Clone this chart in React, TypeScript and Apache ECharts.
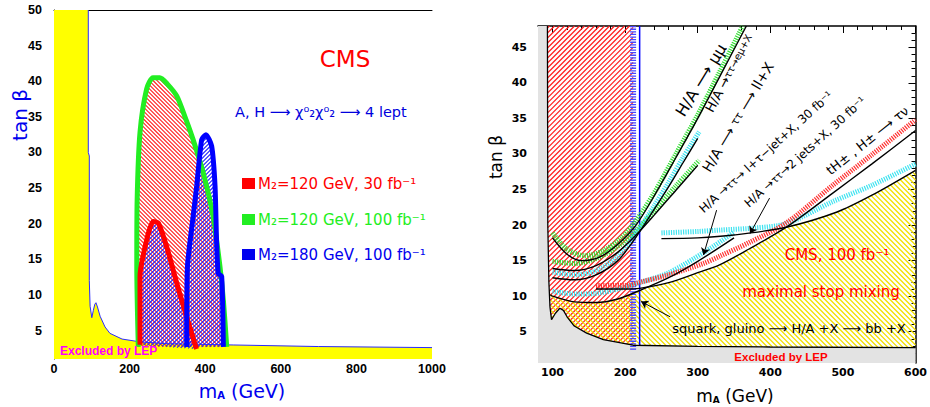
import React, { useEffect, useRef } from 'react';
import * as echarts from 'echarts';

// ================= LEFT PANEL DATA (A,H -> chi2 chi2 -> 4 leptons) =================
const LEFT_X_TICKS = [0, 200, 400, 600, 800, 1000];
const LEFT_Y_TICKS = [5, 10, 15, 20, 25, 30, 35, 40, 45, 50];
// LEP exclusion boundary (m_A, tan beta)
const leftLEP = [
  [90.7, 50], [90.7, 30], [93.4, 29.5], [93.4, 12], [95.5, 8.4], [100, 6.8], [104, 7.8], [108, 8.7],
  [111, 8.9], [115, 8.3], [122, 7.0], [135, 5.5], [148, 4.6], [180, 3.8], [228, 3.4], [300, 3.15],
  [474, 2.97], [700, 2.75], [1000, 2.6],
];
// M2 = 120 GeV, 100 fb-1 (green)
const green100 = [
  [223, 2.7], [219, 14], [220, 23.4], [227.5, 32.8], [245, 38.9], [262, 40.5], [280, 40.5], [300, 39.6],
  [325, 37.9], [350, 34.5], [368, 31.8], [395, 27.1], [421, 21], [439, 14], [448, 9.3], [457, 2.7],
];
// M2 = 120 GeV, 30 fb-1 (red)
const red30 = [
  [227.5, 3.0], [227.5, 12.6], [245, 17.7], [262, 20.3], [276, 20.1], [298, 16.8], [325, 11.6], [351, 6.9], [377, 2.4],
];
// M2 = 180 GeV, 100 fb-1 (blue)
const blue180 = [
  [351, 2.7], [353, 14], [368, 21], [377.5, 25.3], [390.7, 31.8], [402, 32.5], [417, 30.9], [426, 25.3],
  [430, 17.7], [434.6, 13], [443.6, 12.6], [448, 2.7],
];

// ================= RIGHT PANEL DATA (CMS 100 fb-1, maximal stop mixing) =================
const RIGHT_X_TICKS = [100, 200, 300, 400, 500, 600];
const RIGHT_Y_TICKS = [5, 10, 15, 20, 25, 30, 35, 40, 45];
const RIGHT_X_MINOR = [80, 100, 120, 140, 160, 180, 200, 220, 240, 260, 280, 300, 320, 340, 360, 380, 400, 420, 440, 460, 480, 500, 520, 540, 560, 580, 600];
const RIGHT_Y_MINOR = [1, 2, 3, 4, 5, 6, 7, 8, 9, 10, 11, 12, 13, 14, 15, 16, 17, 18, 19, 20, 21, 22, 23, 24, 25, 26, 27, 28, 29, 30, 31, 32, 33, 34, 35, 36, 37, 38, 39, 40, 41, 42, 43, 44, 45, 46, 47];
const rightLEP = [
  [93, 48], [93.5, 20], [95, 12], [96.5, 8.5], [98.6, 6.7], [104, 7.6], [110, 8.3], [115, 8.0], [120, 7.1],
  [130, 5.8], [147, 4.8], [170, 3.9], [211, 3.1], [300, 2.95], [400, 2.85], [600, 2.75],
];
const muGreen = [[100, 18.9], [120, 16.6], [145, 15.7], [170, 16.4], [195, 18.2], [215, 20.6], [240, 24.5], [270, 30], [300, 35.5], [330, 41.5], [362, 48]];
const muBlack = [[100, 18.2], [120, 15.9], [140, 15.0], [165, 15.5], [190, 17.3], [215, 20.0], [240, 24.1], [270, 29.5], [300, 35], [335, 41.8], [367, 48]];
const emuCyan = [[100, 13.4], [130, 13.0], [160, 13.6], [190, 15.6], [215, 18.8], [240, 22.7], [260, 26], [280, 29.5], [302, 33.1]];
const emuBlack = [[100, 12.6], [130, 12.3], [160, 13.0], [190, 15.0], [215, 18.3], [240, 22.2], [260, 25.4], [280, 28.8], [300, 32.2]];
const llGreen = [[100, 14.9], [130, 14.6], [160, 15.3], [190, 17.0], [215, 19.2], [240, 22.0], [270, 25.5], [302, 29.1]];
const llBlack = [[100, 13.9], [130, 13.6], [160, 14.3], [190, 16.2], [215, 18.6], [240, 21.4], [270, 24.9], [300, 28.4]];
const ltauCyan = [[100, 10.7], [130, 10.3], [160, 10.4], [190, 11.0], [220, 11.9], [260, 13.3], [311, 16.3], [350, 19.0]];
const ltauBlack = [[97, 10.2], [100, 10.0], [130, 9.2], [160, 9.1], [190, 9.6], [220, 10.8], [260, 12.6], [300, 14.9], [350, 18.2]];
const taunuRed = [[160, 11.5], [200, 11.5], [222, 12.0], [260, 13.0], [308, 14.6], [330, 15.6], [370, 17.5], [422, 20.3], [486, 25.6], [540, 29.9], [600, 34.8]];
const taunuBlack = [[160, 11.0], [200, 11.0], [220, 11.1], [260, 11.9], [300, 13.3], [330, 14.4], [370, 16.6], [422, 19.7], [486, 24.5], [540, 28.6], [600, 33.3]];
const twoJetCyan = [[250, 18.9], [300, 19.1], [331, 19.3], [380, 19.6], [422, 20.2], [486, 23.3], [540, 25.6], [600, 28.6]];
const twoJetBlack = [[250, 18.1], [300, 18.2], [350, 18.6], [422, 19.7], [491, 21.8], [540, 24.2], [600, 27.7]];
const yellowTop = [[97, 10.2], [100, 10.0], [130, 9.2], [160, 9.1], [190, 9.6], [220, 10.8], [260, 11.9], [300, 13.3], [330, 14.4], [370, 16.6], [422, 19.7], [491, 21.8], [540, 24.2], [600, 27.7]];
const squarkStrip = [[211, 48], [211, 2.4]];
const blueLimit = [[220, 48], [220, 3.05]];
const arrows = [
  [[326, 22.1], [308, 15.8]],
  [[399, 23.8], [372, 18.8]],
  [[262, 7.1], [222, 9.25]],
];

const FONT = "'DejaVu Sans', sans-serif";
const BOLD = "'Liberation Sans', Arial, sans-serif";

// hatch lines clipped to a polygon (pixel space); dir>0 => '/', dir<0 => '\'
function hatchPath(px: number[][], dir: number, s: number) {
  const n = px.length;
  const u = (p: number[]) => (dir > 0 ? p[0] + p[1] : p[0] - p[1]);
  let lo = Infinity;
  let hi = -Infinity;
  for (const p of px) {
    const v = u(p);
    lo = Math.min(lo, v);
    hi = Math.max(hi, v);
  }
  let d = '';
  for (let c = Math.ceil(lo / s) * s + 0.5; c <= hi; c += s) {
    const xs: number[][] = [];
    for (let i = 0; i < n; i++) {
      const a = px[i];
      const b = px[(i + 1) % n];
      const ua = u(a);
      const ub = u(b);
      if (ua <= c !== ub <= c) {
        const t = (c - ua) / (ub - ua);
        xs.push([a[0] + t * (b[0] - a[0]), a[1] + t * (b[1] - a[1])]);
      }
    }
    xs.sort((p, q) => p[0] - q[0]);
    for (let k = 0; k + 1 < xs.length; k += 2) {
      d += `M${xs[k][0].toFixed(2)} ${xs[k][1].toFixed(2)}L${xs[k + 1][0].toFixed(2)} ${xs[k + 1][1].toFixed(2)}`;
    }
  }
  return d || 'M0 0';
}

function poly(pts: number[][], xi: number, yi: number, style: any) {
  return {
    type: 'custom',
    xAxisIndex: xi,
    yAxisIndex: yi,
    silent: true,
    data: [pts[0]],
    renderItem: (_p: any, api: any) => ({
      type: 'polygon',
      shape: { points: pts.map((p) => api.coord(p)) },
      style,
    }),
  };
}

function hatchSeries(pts: number[][], xi: number, yi: number, color: string, dir: number, s: number, lw = 1) {
  return {
    type: 'custom',
    xAxisIndex: xi,
    yAxisIndex: yi,
    silent: true,
    data: [pts[0]],
    renderItem: (_p: any, api: any) => ({
      type: 'path',
      shape: { pathData: hatchPath(pts.map((p) => api.coord(p)), dir, s) },
      style: { fill: 'none', stroke: color, lineWidth: lw },
    }),
  };
}

function line(pts: number[][], xi: number, yi: number, color: string, width: number, type: any = 'solid', smooth: any = 0.3, extra: any = {}) {
  return {
    type: 'line',
    xAxisIndex: xi,
    yAxisIndex: yi,
    data: pts,
    symbol: 'none',
    showSymbol: false,
    smooth,
    silent: true,
    lineStyle: { color, width, type, cap: 'butt' },
    ...extra,
  };
}

function txt(x: number, y: number, text: string, o: any = {}) {
  return {
    type: 'text',
    x,
    y,
    rotation: o.rot ? (o.rot * Math.PI) / 180 : 0,
    z: 100,
    silent: true,
    style: {
      text,
      fill: o.fill || '#000',
      fontSize: o.size || 14,
      fontFamily: o.family || FONT,
      fontWeight: o.weight || 'normal',
      align: o.align || 'center',
      textAlign: o.align || 'center',
      verticalAlign: 'middle',
      textVerticalAlign: 'middle',
      rich: o.rich,
    },
  };
}

export default function App() {
  const ref = useRef<HTMLDivElement>(null);
  useEffect(() => {
    const chart = echarts.init(ref.current!, null, { renderer: 'svg' });

    const yellowLeft = [[0, 50], ...leftLEP, [1000, 1], [0, 1]];
    const grayRight = [[80, 48], ...rightLEP, [600, 0.6], [80, 0.6]];
    const redRight = [[93, 48], [211, 48], ...rightLEP.filter((p) => p[0] <= 211).reverse()];
    const yellowRight = [...yellowTop, ...rightLEP.filter((p) => p[0] >= 97).reverse()];

    const noAx = { axisLine: { show: false }, axisTick: { show: false }, axisLabel: { show: false }, splitLine: { show: false } };
    const plain = (v: number) => String(v);

    const option: any = {
      animation: false,
      backgroundColor: '#fff',
      grid: [
        { left: 54, top: 10, width: 378, height: 349 },
        { left: 538, top: 26, width: 379, height: 337 },
      ],
      xAxis: [
        {
          gridIndex: 0, type: 'value', min: 0, max: 1000, interval: 200,
          axisLine: { show: false }, axisTick: { show: false }, splitLine: { show: false },
          axisLabel: { customValues: LEFT_X_TICKS, formatter: plain, margin: 3, color: '#000', fontFamily: BOLD, fontWeight: 'bold', fontSize: 12.5 },
        },
        { gridIndex: 0, type: 'value', position: 'top', min: 0, max: 1000, ...noAx, axisLine: { show: true, lineStyle: { color: '#000', width: 1 } } },
        {
          gridIndex: 1, type: 'value', min: 80, max: 600,
          axisLine: { show: false }, axisTick: { show: false }, splitLine: { show: false },
          axisLabel: { customValues: RIGHT_X_TICKS, formatter: plain, margin: 4, color: '#000', fontFamily: FONT, fontWeight: 'bold', fontSize: 11 },
        },
        {
          gridIndex: 1, type: 'value', position: 'top', min: 80, max: 600, splitLine: { show: false }, axisLabel: { show: false },
          axisLine: { show: true, lineStyle: { color: '#000', width: 1.5 } },
          axisTick: { show: true, inside: true, length: 7, customValues: RIGHT_X_TICKS, lineStyle: { color: '#000' } },
        },
        {
          gridIndex: 1, type: 'value', position: 'top', min: 80, max: 600, splitLine: { show: false }, axisLabel: { show: false },
          axisLine: { show: false },
          axisTick: { show: true, inside: true, length: 4, customValues: RIGHT_X_MINOR, lineStyle: { color: '#000' } },
        },
      ],
      yAxis: [
        {
          gridIndex: 0, type: 'value', min: 1, max: 50,
          axisLine: { show: false }, axisTick: { show: false }, splitLine: { show: false },
          axisLabel: { customValues: LEFT_Y_TICKS, formatter: plain, margin: 12, color: '#000', fontFamily: BOLD, fontWeight: 'bold', fontSize: 12.5 },
        },
        { gridIndex: 0, type: 'value', position: 'right', min: 1, max: 50, ...noAx, axisLine: { show: true, lineStyle: { color: '#000', width: 1 } } },
        {
          gridIndex: 1, type: 'value', min: 0.6, max: 48,
          axisLine: { show: false }, axisTick: { show: false }, splitLine: { show: false },
          axisLabel: { customValues: RIGHT_Y_TICKS, formatter: plain, margin: 11, color: '#000', fontFamily: FONT, fontWeight: 'bold', fontSize: 11 },
        },
        {
          gridIndex: 1, type: 'value', position: 'right', min: 0.6, max: 48, splitLine: { show: false }, axisLabel: { show: false },
          axisLine: { show: true, lineStyle: { color: '#000', width: 1.5 } },
          axisTick: { show: true, inside: true, length: 7, customValues: RIGHT_Y_TICKS, lineStyle: { color: '#000' } },
        },
        {
          gridIndex: 1, type: 'value', position: 'right', min: 0.6, max: 48, splitLine: { show: false }, axisLabel: { show: false },
          axisLine: { show: false },
          axisTick: { show: true, inside: true, length: 4, customValues: RIGHT_Y_MINOR, lineStyle: { color: '#000' } },
        },
      ],
      series: [
        // ---- left panel ----
        poly(yellowLeft, 0, 0, { fill: '#ffff00' }),
        hatchSeries(green100, 0, 0, '#ff2020', -1, 4, 1.1),
        hatchSeries(red30, 0, 0, '#2020ff', 1, 4, 1.1),
        hatchSeries(blue180, 0, 0, '#2020ff', 1, 4, 1.1),
        line(leftLEP, 0, 0, '#2b2bff', 1, 'solid', false),
        line(green100, 0, 0, '#22ee22', 5, 'solid', 0.25),
        line(red30, 0, 0, '#ff0000', 5, 'solid', 0.2),
        line(blue180, 0, 0, '#0000ff', 5, 'solid', 0.2),
        // ---- right panel ----
        poly(grayRight, 2, 2, { fill: '#e3e3e3' }),
        hatchSeries(redRight, 2, 2, '#ff2020', 1, 5, 1.25),
        hatchSeries(yellowRight, 2, 2, '#f2e000', -1, 5, 1.3),
        line(squarkStrip, 2, 2, '#4646ff', 6, [1.3, 1.3], false),
        line(blueLimit, 2, 2, '#0000ff', 1.5, 'solid', false),
        line(muGreen, 2, 2, '#33dd33', 5, [1.2, 1.2]),
        line(llGreen, 2, 2, '#33dd33', 5, [1.2, 1.2]),
        line(emuCyan, 2, 2, '#3fe3f0', 5, [1.2, 1.2]),
        line(ltauCyan, 2, 2, '#3fe3f0', 5, [1.2, 1.2]),
        line(twoJetCyan, 2, 2, '#3fe3f0', 5, [1.2, 1.2]),
        line(taunuRed, 2, 2, '#ff3030', 5, [1.2, 1.2]),
        line(muBlack, 2, 2, '#000', 1.4),
        line(llBlack, 2, 2, '#000', 1.4),
        line(emuBlack, 2, 2, '#000', 1.4),
        line(ltauBlack, 2, 2, '#000', 1.4),
        line(taunuBlack, 2, 2, '#000', 1.4),
        line(twoJetBlack, 2, 2, '#000', 1.4, 'solid', 0.3, {
          markLine: {
            silent: true,
            symbol: ['none', 'arrow'],
            symbolSize: 7,
            label: { show: false },
            lineStyle: { color: '#000', width: 1, type: 'solid' },
            data: arrows.map((a) => [{ coord: a[0] }, { coord: a[1] }]),
          },
        }),
        line(rightLEP, 2, 2, '#000', 1.3, 'solid', false),
      ],
      graphic: [
        // left panel texts
        txt(345, 59, 'CMS', { fill: '#ff0000', size: 23 }),
        txt(235, 112, 'A, H ⟶ χ⁰₂χ⁰₂ ⟶ 4 lept', { fill: '#0000dd', size: 14.5, align: 'left' }),
        { type: 'rect', z: 100, shape: { x: 242, y: 178, width: 13, height: 11 }, style: { fill: '#ff0000' } },
        { type: 'rect', z: 100, shape: { x: 242, y: 214, width: 13, height: 11 }, style: { fill: '#22ee22' } },
        { type: 'rect', z: 100, shape: { x: 242, y: 249, width: 13, height: 11 }, style: { fill: '#0000ee' } },
        txt(258, 183.5, 'M₂=120 GeV, 30 fb⁻¹', { fill: '#ff0000', size: 15, align: 'left' }),
        txt(258, 219.5, 'M₂=120 GeV, 100 fb⁻¹', { fill: '#22ee22', size: 15, align: 'left' }),
        txt(258, 254.5, 'M₂=180 GeV, 100 fb⁻¹', { fill: '#0000ee', size: 15, align: 'left' }),
        txt(60, 351, 'Excluded by LEP', { fill: '#ff00ff', size: 12, align: 'left', family: BOLD, weight: 'bold' }),
        txt(242, 391, '{m|m}{s|A}{m| (GeV)}', {
          fill: '#0000ee', size: 19,
          rich: { m: { fontSize: 19, fill: '#0000ee', fontFamily: FONT }, s: { fontSize: 10, fill: '#0000ee', fontFamily: FONT, verticalAlign: 'bottom', fontWeight: 'bold' } },
        }),
        txt(20, 115, 'tan β', { fill: '#0000ee', size: 20, rot: 90 }),
        // right panel texts
        txt(495.5, 157, 'tan β', { fill: '#000', size: 17, rot: 90 }),
        txt(735, 396, '{m|m}{s|A}{m| (GeV)}', {
          size: 17,
          rich: { m: { fontSize: 17, fill: '#000', fontFamily: FONT }, s: { fontSize: 9, fill: '#000', fontFamily: FONT, verticalAlign: 'bottom', fontWeight: 'bold' } },
        }),
        txt(837, 255, 'CMS, 100 fb⁻¹', { fill: '#ff0000', size: 15 }),
        txt(821, 292, 'maximal stop mixing', { fill: '#ff0000', size: 15 }),
        txt(789, 328, 'squark, gluino ⟶ H/A +X ⟶ bb +X', { fill: '#000', size: 13 }),
        txt(781, 357, 'Excluded by LEP', { fill: '#ff0000', size: 11.5, family: BOLD, weight: 'bold' }),
        txt(701, 80, 'H/A ⟶ μμ', { size: 16, rot: 58.5 }),
        txt(729, 73, '{a|H/A →}{b|ττ→eμ+X}', {
          size: 13, rot: 62,
          rich: { a: { fontSize: 13, fill: '#000', fontFamily: FONT }, b: { fontSize: 10, fill: '#000', fontFamily: FONT } },
        }),
        txt(738, 117, '{a|H/A ⟶ }{b|ττ}{a| ⟶ ll+X}', {
          size: 14, rot: 59,
          rich: { a: { fontSize: 14, fill: '#000', fontFamily: FONT }, b: { fontSize: 11, fill: '#000', fontFamily: FONT } },
        }),
        txt(766, 152, '{a|H/A →}{b|ττ}{a|→ l+τ−jet+X, 30 fb⁻¹}', {
          size: 12, rot: 42,
          rich: { a: { fontSize: 12, fill: '#000', fontFamily: FONT }, b: { fontSize: 10, fill: '#000', fontFamily: FONT } },
        }),
        txt(805, 152, '{a|H/A →}{b|ττ}{a|→2 jets+X, 30 fb⁻¹}', {
          size: 12, rot: 42,
          rich: { a: { fontSize: 12, fill: '#000', fontFamily: FONT }, b: { fontSize: 10, fill: '#000', fontFamily: FONT } },
        }),
        txt(867.5, 140.5, 'tH± , H± ⟶ τν', { size: 13, rot: 38.5 }),
      ],
    };
    chart.setOption(option);
    return () => chart.dispose();
  }, []);
  return <div ref={ref} style={{ position: 'absolute', left: 0, top: 0, width: 930, height: 407, background: '#fff' }} />;
}
